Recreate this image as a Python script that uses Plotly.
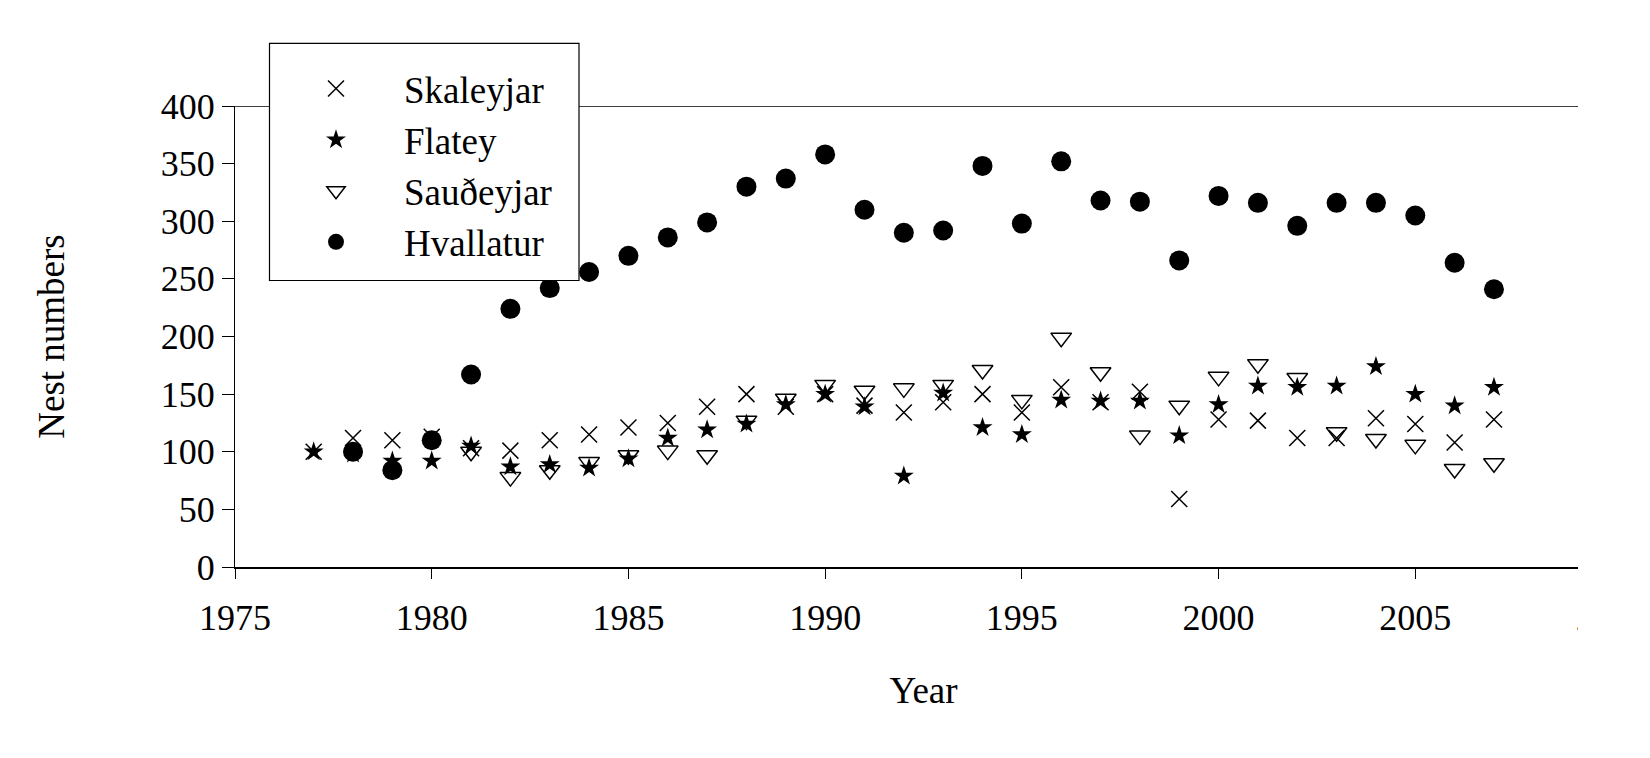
import plotly.graph_objects as go

years = list(range(1977, 2008))

skaleyjar = [100, 112, 110, 113, 103, 101, 110, 115, 121, 125, 139, 150, 139, 150, 140, 134,
             143, 150, 134, 156, 143, 152, 59, 128, 127, 112, 112, 129, 124, 108, 128]
flatey = [100, 98, 92, 92, 105, 87, 89, 86, 94, 112, 119, 124, 141, 150, 139, 79,
          151, 121, 115, 145, 144, 144, 114, 141, 157, 156, 157, 174, 150, 140, 156]
saudeyjar = [None, None, None, None, 100, 78, 84, 91, 97, 101, 97, 127, 146, 158, 153, 155,
             158, 171, 145, 199, 169, 114, 140, 165, 176, 164, 117, 111, 106, 85, 90]
hvallatur = [None, 100, 84, 110, 167, 224, 242, 256, 270, 286, 299, 330, 337, 358, 310, 290,
             292, 348, 298, 352, 318, 317, 266, 322, 316, 296, 316, 316, 305, 264, 241]

series_names = ["Skaleyjar", "Flatey", "Sauðeyjar", "Hvallatur"]

x_ticks = [1975, 1980, 1985, 1990, 1995, 2000, 2005, 2010]
y_ticks = [0, 50, 100, 150, 200, 250, 300, 350, 400]

FONT = "Liberation Serif, Times New Roman, serif"

W, H = 1650, 758
ML, MR, MT, MB = 235, 38, 106, 191
PW = W - ML - MR
PH = H - MT - MB


def px_x(p):
    return (p - ML) / PW


def px_y(p):
    return (H - MB - p) / PH


fig = go.Figure()

fig.add_trace(go.Scatter(
    x=years, y=skaleyjar, mode="markers", name=series_names[0],
    marker=dict(symbol="x-thin-open", size=16, color="black",
                line=dict(color="black", width=1.5)),
))
fig.add_trace(go.Scatter(
    x=years, y=flatey, mode="markers", name=series_names[1],
    marker=dict(symbol="star", size=15, color="black",
                line=dict(color="black", width=0)),
))
fig.add_trace(go.Scatter(
    x=years, y=saudeyjar, mode="markers", name=series_names[2],
    marker=dict(symbol="triangle-down-open", size=18, color="black",
                line=dict(color="black", width=1.5)),
))
fig.add_trace(go.Scatter(
    x=years, y=hvallatur, mode="markers", name=series_names[3],
    marker=dict(symbol="circle", size=20, color="black",
                line=dict(color="black", width=0)),
))

shapes = [
    # top frame line at y = 400
    dict(type="line", xref="paper", yref="y", x0=0, x1=1, y0=400, y1=400,
         line=dict(color="black", width=1.5), layer="above"),
    # legend box
    dict(type="rect", xref="paper", yref="paper",
         x0=px_x(269.5), x1=px_x(579), y0=px_y(280.5), y1=px_y(43.3),
         fillcolor="white", line=dict(color="black", width=1.2), layer="above"),
    # right-hand crop of the original figure
    dict(type="rect", xref="paper", yref="paper",
         x0=px_x(1578), x1=px_x(1700), y0=px_y(800), y1=px_y(-40),
         fillcolor="white", line=dict(width=0), layer="above"),
]

fig.update_layout(
    width=W, height=H,
    margin=dict(l=ML, r=MR, t=MT, b=MB, autoexpand=False),
    paper_bgcolor="white", plot_bgcolor="white",
    font=dict(family=FONT, size=36, color="black"),
    showlegend=True,
    legend=dict(
        x=px_x(268), y=px_y(58), xanchor="left", yanchor="top",
        bgcolor="rgba(0,0,0,0)", borderwidth=0,
        font=dict(family=FONT, size=37, color="black"),
        itemwidth=126, tracegroupgap=0, itemsizing="trace",
    ),
    xaxis=dict(
        range=[1975, 2010], tickvals=x_ticks, ticktext=[str(v) for v in x_ticks],
        showline=True, linecolor="black", linewidth=2.3,
        ticks="outside", ticklen=10, tickwidth=1, tickcolor="black",
        showgrid=False, zeroline=False, ticklabelstandoff=8,
        tickfont=dict(family=FONT, size=36, color="black"),
        title=dict(text="Year", font=dict(family=FONT, size=37, color="black"), standoff=40),
    ),
    yaxis=dict(
        range=[0, 400], tickvals=y_ticks, ticktext=[str(v) for v in y_ticks],
        showline=True, linecolor="black", linewidth=1,
        ticks="outside", ticklen=12, tickwidth=1, tickcolor="black",
        showgrid=False, zeroline=False, ticklabelstandoff=0,
        tickfont=dict(family=FONT, size=36, color="black"),
        title=dict(text="Nest numbers", font=dict(family=FONT, size=37, color="black"), standoff=84),
    ),
    shapes=shapes,
)

fig.write_html("out.html")
